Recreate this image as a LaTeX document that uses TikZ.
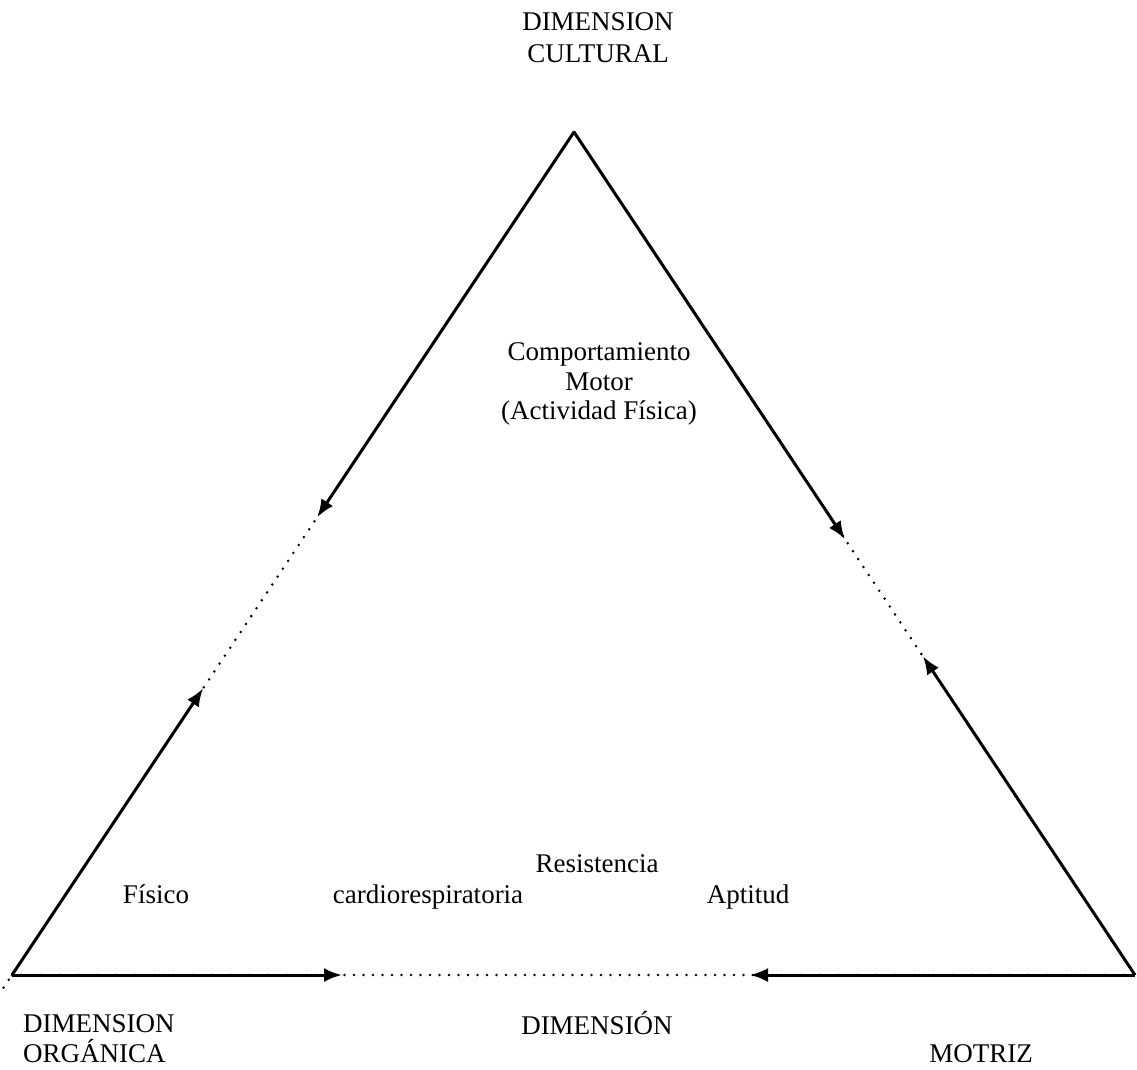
\documentclass[tikz,border=0pt]{standalone}
\usepackage{fontspec}
\setmainfont{Liberation Serif}
\usetikzlibrary{arrows.meta,calc}
\begin{document}
\begin{tikzpicture}[x=1pt,y=-1pt,
  solidarrow/.style={line width=3pt,-{Latex[length=18pt,width=14pt]}},
  dotline/.style={line width=2.8pt,line cap=round,dash pattern=on 0pt off 9.5pt},
  lbl/.style={inner sep=0pt,anchor=base,font=\fontsize{27}{32}\selectfont}]
\useasboundingbox (0,0) rectangle (1137,1069);
% corners
\coordinate (A) at (574,132);
\coordinate (L) at (12,975);
\coordinate (R) at (1135,975);
% arrow tips
\coordinate (LU) at ($(A)!0.457!(L)$);
\coordinate (LD) at ($(L)!0.34!(A)$);
\coordinate (RU) at ($(A)!0.483!(R)$);
\coordinate (RD) at ($(R)!0.378!(A)$);
\coordinate (BL) at (342,975);
\coordinate (BR) at (750,975);
% dotted sides
\draw[dotline] ($(L)!-0.015!(A)$) -- (A);
\draw[dotline] (A) -- (R);
\draw[dotline] (L) -- (R);
% solid arrows
\draw[solidarrow] (A) -- (LU);
\draw[solidarrow] (L) -- (LD);
\draw[solidarrow] (A) -- (RU);
\draw[solidarrow] (R) -- (RD);
\draw[solidarrow] (L) -- (BL);
\draw[solidarrow] (R) -- (BR);
% labels
\node[lbl] (t1) at (598,30) {DIMENSION};
\node[lbl] (t2) at (598,62) {CULTURAL};
\node[lbl] (c1) at (599,360) {Comportamiento};
\node[lbl] (c2) at (599,390) {Motor};
\node[lbl] (c3) at (599,419) {(Actividad Física)};
\node[lbl] (r1) at (597,872) {Resistencia};
\node[lbl] (f1) at (156,903) {Físico};
\node[lbl] (r2) at (428,903) {cardiorespiratoria};
\node[lbl] (a1) at (748,903) {Aptitud};
\node[lbl,anchor=base west] (o1) at (23,1032) {DIMENSION};
\node[lbl,anchor=base west] (o2) at (23,1062) {ORGÁNICA};
\node[lbl] (d1) at (597,1034) {DIMENSIÓN};
\node[lbl] (m1) at (981,1062) {MOTRIZ};
\end{tikzpicture}
\end{document}
